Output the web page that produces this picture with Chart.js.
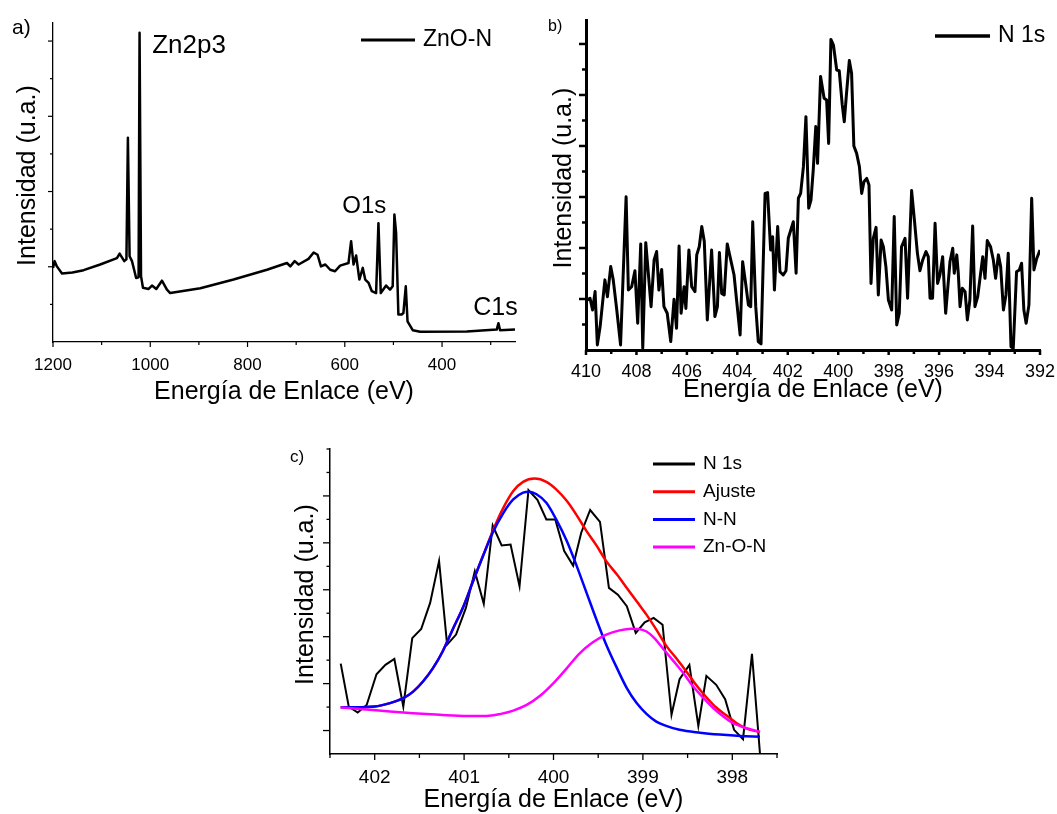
<!DOCTYPE html>
<html lang="es">
<head>
<meta charset="utf-8">
<title>XPS ZnO-N</title>
<script src="https://cdn.jsdelivr.net/npm/chart.js@4.4.1/dist/chart.umd.min.js"></script>
<style>
  html, body { margin: 0; padding: 0; background: #fff; overflow: hidden; }
  body { width: 1057px; height: 814px; position: relative; font-family: Arial, "Liberation Sans", sans-serif; }
  canvas, .letra { position: absolute; }
  #graficoA { left: 0; top: 0; }
  #graficoB { left: 540px; top: 0; }
  #graficoC { left: 280px; top: 440px; }
  .letra { color: #000; line-height: normal; }
</style>
</head>
<body>
<canvas id="graficoA" width="540" height="410"></canvas>
<canvas id="graficoB" width="517" height="410"></canvas>
<canvas id="graficoC" width="500" height="380"></canvas>
<div class="letra" style="left:12px;top:15px;font-size:21px">a)</div>
<div class="letra" style="left:548px;top:17px;font-size:16px">b)</div>
<div class="letra" style="left:290px;top:447px;font-size:17px">c)</div>

<script>
const FUENTE = "Arial, 'Liberation Sans', sans-serif";

// a) espectro general
const energiaA = [1200, 1196.6, 1192, 1181.5, 1160, 1137, 1103, 1068.5, 1063, 1053.5, 1049, 1046, 1042.5, 1037.6, 1029, 1024, 1022, 1019, 1015, 1003.4, 996.5, 987.6, 976, 965.7, 959, 897, 828.7, 760, 719, 712, 703, 695, 674.6, 664, 656, 649, 640, 630, 620, 609.6, 592.4, 587, 582, 576.7, 570, 563, 558, 551, 544.4, 535.6, 530.8, 526, 515, 507, 501.5, 498, 494.5, 489.8, 483, 479.5, 474.6, 471, 460, 445, 349, 287.6, 284, 280.7, 250];
const intensidadA = [1.97, 2.15, 2.01, 1.82, 1.85, 1.91, 2.06, 2.23, 2.35, 2.15, 2.20, 5.43, 2.28, 2.15, 1.70, 1.72, 8.22, 1.75, 1.44, 1.41, 1.50, 1.41, 1.63, 1.39, 1.30, 1.43, 1.66, 1.92, 2.10, 2.01, 2.15, 2.06, 2.21, 2.38, 2.32, 2.01, 2.06, 1.92, 1.88, 2.03, 2.10, 2.68, 2.06, 2.30, 1.66, 1.97, 1.66, 1.57, 1.35, 1.30, 3.16, 1.30, 1.50, 1.39, 1.48, 3.39, 2.90, 0.73, 0.73, 0.77, 1.48, 0.55, 0.31, 0.27, 0.28, 0.33, 0.50, 0.31, 0.33];
const marcasXA = [1200, 1100, 1000, 900, 800, 700, 600, 500, 400, 300];
const etiquetasXA = [1200, 1000, 800, 600, 400];
const marcasYA = [1, 2, 3, 4, 5, 6, 7, 8];
const mayoresYA = [2, 4, 6, 8];

// b) N 1s alta resolucion
const energiaB = [409.95, 409.84, 409.74, 409.64, 409.55, 409.44, 409.25, 409.15, 409.02, 408.92, 408.78, 408.63, 408.41, 408.32, 408.19, 408.06, 407.95, 407.83, 407.75, 407.63, 407.53, 407.42, 407.30, 407.20, 407.11, 407.00, 406.91, 406.78, 406.64, 406.51, 406.41, 406.31, 406.23, 406.11, 406.04, 405.92, 405.81, 405.68, 405.61, 405.51, 405.41, 405.31, 405.19, 405.02, 404.89, 404.79, 404.71, 404.62, 404.52, 404.40, 404.29, 404.13, 404.03, 403.89, 403.79, 403.67, 403.56, 403.47, 403.39, 403.27, 403.17, 403.06, 402.90, 402.80, 402.68, 402.60, 402.53, 402.40, 402.31, 402.18, 402.07, 401.98, 401.78, 401.67, 401.58, 401.49, 401.38, 401.28, 401.17, 401.08, 400.99, 400.89, 400.82, 400.70, 400.56, 400.46, 400.38, 400.29, 400.19, 400.06, 399.96, 399.84, 399.76, 399.67, 399.56, 399.47, 399.38, 399.27, 399.16, 399.07, 398.98, 398.87, 398.78, 398.70, 398.61, 398.50, 398.41, 398.30, 398.21, 398.11, 398.01, 397.88, 397.78, 397.68, 397.58, 397.49, 397.35, 397.25, 397.09, 396.98, 396.86, 396.76, 396.65, 396.52, 396.43, 396.36, 396.26, 396.16, 396.06, 395.97, 395.86, 395.74, 395.57, 395.46, 395.40, 395.30, 395.24, 395.17, 395.08, 394.97, 394.88, 394.78, 394.67, 394.58, 394.47, 394.38, 394.27, 394.18, 394.09, 393.96, 393.85, 393.76, 393.65, 393.56, 393.45, 393.35, 393.26, 393.15, 393.06, 392.93, 392.82, 392.73, 392.64, 392.55, 392.44, 392.33, 392.24, 392.13, 392.00];
const intensidadB = [1.96, 2.03, 1.57, 2.29, 0.20, 0.92, 2.75, 2.09, 3.27, 2.75, 1.57, 0.20, 6.01, 2.35, 2.48, 3.11, 1.05, 4.16, 0.07, 4.21, 3.01, 1.70, 3.53, 3.86, 2.35, 3.16, 1.70, 1.44, 0.33, 1.99, 0.85, 4.08, 1.44, 2.48, 1.63, 3.92, 2.48, 2.29, 3.73, 4.05, 4.84, 4.25, 1.18, 3.92, 1.31, 1.70, 3.82, 2.22, 2.16, 4.16, 3.66, 2.94, 1.96, 0.59, 3.46, 2.61, 1.76, 1.70, 5.03, 1.70, 0.33, 0.24, 6.14, 6.17, 3.92, 4.44, 2.35, 4.84, 3.07, 2.94, 3.11, 4.38, 5.03, 3.01, 5.95, 6.14, 7.19, 9.15, 5.56, 5.88, 7.06, 8.76, 7.32, 10.72, 9.87, 9.80, 8.10, 12.18, 11.96, 10.98, 10.95, 9.61, 8.95, 10.07, 11.35, 10.85, 8.00, 7.71, 7.19, 6.14, 6.60, 6.73, 6.47, 2.61, 4.38, 4.81, 2.16, 4.31, 4.05, 3.27, 1.96, 1.57, 5.23, 0.98, 1.44, 4.05, 4.38, 2.03, 6.25, 5.10, 3.79, 3.11, 3.53, 3.86, 3.66, 2.03, 2.03, 4.97, 2.61, 2.94, 3.66, 1.44, 3.46, 3.99, 3.01, 3.73, 3.01, 1.70, 2.42, 2.29, 1.18, 1.96, 4.86, 1.70, 2.09, 2.81, 3.66, 2.81, 4.29, 4.05, 3.53, 2.81, 3.73, 3.27, 1.57, 2.16, 3.79, 0.13, 0.07, 3.07, 3.14, 3.40, 1.57, 1.05, 1.76, 5.95, 3.14, 3.59, 3.92];
const marcasXB = [410, 409, 408, 407, 406, 405, 404, 403, 402, 401, 400, 399, 398, 397, 396, 395, 394, 393, 392];
const etiquetasXB = [410, 408, 406, 404, 402, 400, 398, 396, 394, 392];
const marcasYB = [1, 2, 3, 4, 5, 6, 7, 8, 9, 10, 11, 12];
const mayoresYB = [2, 4, 6, 8, 10, 12];

// c) deconvolucion del pico N 1s
const energiaC = [402.38, 402.29, 402.19, 402.09, 401.98, 401.88, 401.78, 401.68, 401.58, 401.48, 401.38, 401.28, 401.19, 401.09, 400.98, 400.88, 400.78, 400.68, 400.58, 400.48, 400.38, 400.28, 400.18, 400.08, 399.98, 399.88, 399.78, 399.69, 399.59, 399.48, 399.38, 399.28, 399.18, 399.08, 398.98, 398.88, 398.78, 398.68, 398.59, 398.48, 398.38, 398.29, 398.18, 398.08, 397.98, 397.88, 397.78, 397.69];
const intensidadC = [3.85, 2.02, 1.77, 2.09, 3.40, 3.80, 4.05, 2.02, 4.94, 5.33, 6.44, 8.22, 4.66, 5.09, 6.23, 7.79, 6.40, 9.74, 8.89, 8.93, 7.15, 11.25, 10.83, 10.00, 10.00, 8.65, 8.03, 9.43, 10.40, 9.89, 7.08, 6.79, 6.30, 5.16, 5.61, 5.80, 5.51, 1.67, 3.19, 3.80, 1.20, 3.33, 2.95, 2.34, 1.03, 0.63, 4.27, 0];
const energiaAjuste = [402.38, 402.21, 402.00, 401.83, 401.68, 401.57, 401.46, 401.35, 401.24, 401.12, 401.01, 400.90, 400.79, 400.68, 400.56, 400.45, 400.34, 400.21, 400.08, 399.97, 399.85, 399.74, 399.63, 399.52, 399.41, 399.29, 399.18, 399.07, 398.96, 398.85, 398.74, 398.62, 398.51, 398.40, 398.29, 398.18, 398.06, 397.95, 397.84, 397.69];
const ajuste = [1.99, 1.99, 2.02, 2.17, 2.38, 2.66, 3.09, 3.65, 4.37, 5.37, 6.27, 7.36, 8.43, 9.50, 10.50, 11.21, 11.60, 11.74, 11.60, 11.28, 10.78, 10.17, 9.50, 8.89, 8.22, 7.65, 7.08, 6.51, 5.94, 5.30, 4.62, 4.05, 3.50, 2.92, 2.42, 1.98, 1.63, 1.31, 1.08, 0.93];
const energiaNN = [402.38, 402.21, 402.00, 401.83, 401.68, 401.57, 401.46, 401.35, 401.24, 401.12, 401.01, 400.90, 400.79, 400.68, 400.56, 400.45, 400.34, 400.27, 400.19, 400.08, 399.97, 399.85, 399.74, 399.63, 399.52, 399.41, 399.29, 399.18, 399.07, 398.96, 398.85, 398.74, 398.59, 398.36, 398.14, 397.91, 397.69];
const nn = [1.99, 1.99, 2.02, 2.17, 2.38, 2.66, 3.09, 3.65, 4.37, 5.37, 6.27, 7.36, 8.43, 9.43, 10.28, 10.85, 11.14, 11.18, 11.07, 10.71, 10.00, 9.07, 8.01, 6.87, 5.73, 4.66, 3.66, 2.81, 2.17, 1.71, 1.38, 1.20, 1.03, 0.91, 0.83, 0.77, 0.74];
const energiaZnON = [402.38, 402.13, 401.83, 401.57, 401.27, 400.97, 400.75, 400.60, 400.45, 400.30, 400.15, 400.00, 399.85, 399.71, 399.56, 399.41, 399.26, 399.13, 399.05, 398.96, 398.88, 398.77, 398.66, 398.55, 398.44, 398.32, 398.21, 398.10, 397.99, 397.84, 397.69];
const znon = [1.98, 1.91, 1.81, 1.74, 1.67, 1.62, 1.62, 1.70, 1.85, 2.09, 2.48, 3.02, 3.66, 4.28, 4.76, 5.09, 5.27, 5.34, 5.33, 5.22, 4.97, 4.47, 3.97, 3.46, 2.89, 2.38, 1.95, 1.60, 1.31, 1.10, 0.95];
const marcasXC = [402.5, 402, 401.5, 401, 400.5, 400, 399.5, 399, 398.5, 398, 397.5];
const etiquetasXC = [402, 401, 400, 399, 398];
const marcasYC = [1, 2, 3, 4, 5, 6, 7, 8, 9, 10, 11, 12, 13];
const mayoresYC = [1, 3, 5, 7, 9, 11];

Chart.defaults.font.family = FUENTE;
Chart.defaults.color = "#000";

function puntos(xs, ys) {
    return xs.map((x, i) => ({ x: x, y: ys[i] }));
}

// marcas de los ejes: largas en las mayores, cortas en el resto
function crearMarcas(mayoresX, mayoresY, cfg) {
    return {
        id: "marcas",
        afterDraw(chart) {
            const { ctx, scales: { x, y } } = chart;
            ctx.save();
            ctx.strokeStyle = "#000";
            ctx.lineWidth = cfg.ancho;
            x.ticks.forEach(t => {
                const px = x.getPixelForValue(t.value);
                const largo = mayoresX.includes(t.value) ? cfg.xMayor : cfg.xMenor;
                ctx.beginPath();
                ctx.moveTo(px, x.top);
                ctx.lineTo(px, x.top + largo);
                ctx.stroke();
            });
            y.ticks.forEach(t => {
                const py = y.getPixelForValue(t.value);
                const largo = mayoresY.includes(t.value) ? cfg.yMayor : cfg.yMenor;
                ctx.beginPath();
                ctx.moveTo(y.right, py);
                ctx.lineTo(y.right - largo, py);
                ctx.stroke();
            });
            ctx.restore();
        }
    };
}

// leyenda dentro del area del grafico
function crearLeyenda(cfg) {
    return {
        id: "leyenda",
        afterDraw(chart) {
            const ctx = chart.ctx;
            ctx.save();
            ctx.font = cfg.tam + "px " + FUENTE;
            ctx.textBaseline = "middle";
            ctx.textAlign = "left";
            chart.data.datasets.forEach((ds, i) => {
                const y = cfg.y + i * cfg.paso;
                ctx.strokeStyle = ds.borderColor;
                ctx.lineWidth = cfg.grosor;
                ctx.beginPath();
                ctx.moveTo(cfg.x, y);
                ctx.lineTo(cfg.x + cfg.largo, y);
                ctx.stroke();
                ctx.fillStyle = "#000";
                ctx.fillText(ds.label, cfg.x + cfg.largo + cfg.sep, y);
            });
            ctx.restore();
        }
    };
}

// nombres de los picos, anclados en coordenadas de datos
function crearNotas(lista) {
    return {
        id: "notas",
        afterDraw(chart) {
            const { ctx, scales: { x, y } } = chart;
            ctx.save();
            ctx.fillStyle = "#000";
            ctx.textBaseline = "alphabetic";
            ctx.textAlign = "left";
            lista.forEach(n => {
                ctx.font = n.tam + "px " + FUENTE;
                ctx.fillText(n.texto, x.getPixelForValue(n.x), y.getPixelForValue(n.y));
            });
            ctx.restore();
        }
    };
}

// la separacion de las etiquetas va en tickLength (marca invisible) para que
// el padding de ticks no empuje el borde derecho del area
function ejeX(min, max, marcas, etiquetas, alto, separacion, tamTicks, grosor) {
    return {
        type: "linear",
        reverse: true,
        min: min,
        max: max,
        afterBuildTicks: s => { s.ticks = marcas.map(v => ({ value: v })); },
        afterFit: s => { s.height = alto; },
        grid: {
            display: true,
            drawOnChartArea: false,
            drawTicks: true,
            tickLength: separacion,
            color: "rgba(0,0,0,0)",
            tickColor: "rgba(0,0,0,0)"
        },
        border: { display: true, color: "#000", width: grosor },
        ticks: {
            autoSkip: false,
            maxRotation: 0,
            padding: 0,
            font: { size: tamTicks },
            callback: v => etiquetas.includes(v) ? String(v) : ""
        },
        title: { display: true, text: "Energía de Enlace (eV)", font: { size: 25 }, padding: 0 }
    };
}

function ejeY(max, marcas, ancho, grosor) {
    return {
        type: "linear",
        min: 0,
        max: max,
        afterBuildTicks: s => { s.ticks = marcas.map(v => ({ value: v })); },
        afterFit: s => { s.width = ancho; },
        grid: { display: false, drawTicks: false },
        border: { display: true, color: "#000", width: grosor },
        ticks: { display: false },
        title: { display: true, text: "  Intensidad (u.a.)", font: { size: 25 }, padding: 0 }
    };
}

function opcionesBase(padding, escalas) {
    return {
        responsive: false,
        animation: false,
        devicePixelRatio: 1,
        layout: { padding: padding },
        plugins: { legend: { display: false }, tooltip: { enabled: false } },
        elements: { point: { radius: 0 } },
        scales: escalas
    };
}

function graficoGeneral() {
    new Chart(document.getElementById("graficoA"), {
        type: "line",
        data: {
            datasets: [{
                label: "ZnO-N",
                data: puntos(energiaA, intensidadA),
                borderColor: "#000",
                borderWidth: 2.5,
                borderJoinStyle: "round",
                tension: 0
            }]
        },
        options: opcionesBase({ left: 13, top: 23, right: 25, bottom: 3 }, {
            x: ejeX(250, 1200, marcasXA, etiquetasXA, 65, 13, 17, 1.3),
            y: ejeY(8.48, marcasYA, 40, 1.3)
        }),
        plugins: [
            crearMarcas(etiquetasXA, mayoresYA, { ancho: 1.2, xMayor: 5, xMenor: 3, yMayor: 5, yMenor: 3 }),
            crearLeyenda({ x: 361, y: 40, largo: 54, sep: 8, paso: 0, tam: 23, grosor: 3 }),
            crearNotas([
                { texto: "Zn2p3", x: 996, y: 7.69, tam: 26 },
                { texto: "O1s", x: 605, y: 3.43, tam: 24 },
                { texto: "C1s", x: 336, y: 0.72, tam: 25 }
            ])
        ]
    });
}

function graficoN1s() {
    new Chart(document.getElementById("graficoB"), {
        type: "line",
        data: {
            datasets: [{
                label: "N 1s",
                data: puntos(energiaB, intensidadB),
                borderColor: "#000",
                borderWidth: 3,
                borderJoinStyle: "round",
                tension: 0
            }]
        },
        options: opcionesBase({ left: 9, top: 20, right: 17, bottom: 5 }, {
            x: ejeX(392, 410, marcasXB, etiquetasXB, 55, 11, 18, 3),
            y: ejeY(12.94, marcasYB, 37, 3)
        }),
        plugins: [
            crearMarcas(etiquetasXB, mayoresYB, { ancho: 2.5, xMayor: 5, xMenor: 4, yMayor: 7, yMenor: 4 }),
            crearLeyenda({ x: 395, y: 36, largo: 55, sep: 8, paso: 0, tam: 23, grosor: 3.5 })
        ]
    });
}

function graficoAjuste() {
    const curva = (label, xs, ys, color, orden) => ({
        label: label,
        data: puntos(xs, ys),
        borderColor: color,
        borderWidth: 2.5,
        cubicInterpolationMode: "monotone",
        order: orden
    });

    new Chart(document.getElementById("graficoC"), {
        type: "line",
        data: {
            datasets: [
                {
                    label: "N 1s",
                    data: puntos(energiaC, intensidadC),
                    borderColor: "#000",
                    borderWidth: 2,
                    tension: 0,
                    order: 4
                },
                curva("Ajuste", energiaAjuste, ajuste, "#ff0000", 3),
                curva("N-N", energiaNN, nn, "#0000ff", 2),
                curva("Zn-O-N", energiaZnON, znon, "#ff00ff", 1)
            ]
        },
        options: opcionesBase({ left: 11, top: 9, right: 3, bottom: 5 }, {
            x: ejeX(397.5, 402.5, marcasXC, etiquetasXC, 61, 12, 19, 1.5),
            y: ejeY(13, marcasYC, 39, 1.5)
        }),
        plugins: [
            crearMarcas(etiquetasXC, mayoresYC, { ancho: 1.3, xMayor: 6, xMenor: 4, yMayor: 7, yMenor: 3.5 }),
            crearLeyenda({ x: 373, y: 24, largo: 42, sep: 8, paso: 27.7, tam: 19, grosor: 3 })
        ]
    });
}

graficoGeneral();
graficoN1s();
graficoAjuste();
</script>
</body>
</html>
